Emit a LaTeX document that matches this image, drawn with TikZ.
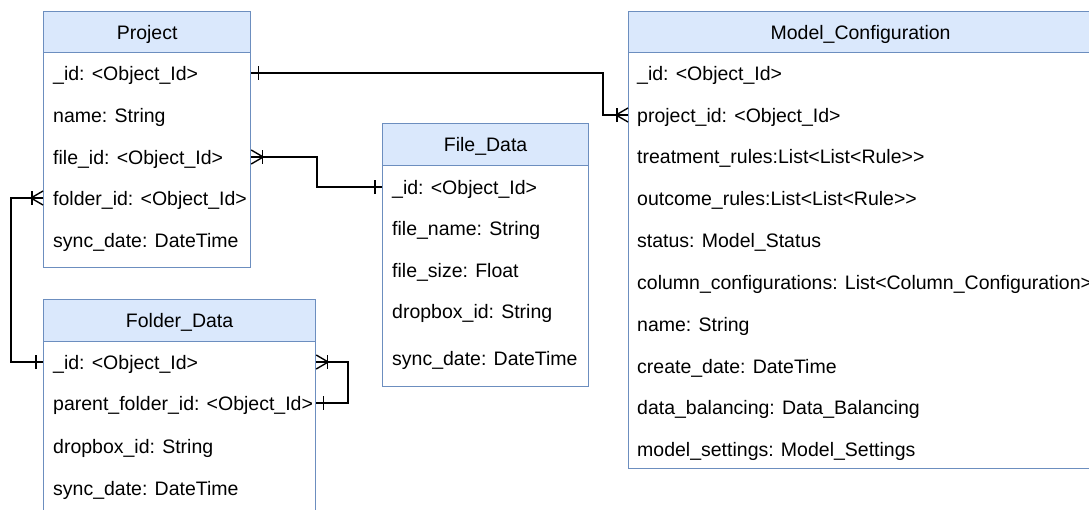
\documentclass[tikz,border=0pt]{standalone}
\usepackage{fontspec}
\setmainfont{Liberation Sans}
\definecolor{hdrfill}{HTML}{DAE8FC}
\definecolor{hdrline}{HTML}{6C8EBF}
\begin{document}
\begin{tikzpicture}[x=1pt,y=-1pt,
  txt/.style={font=\fontsize{19.5}{23}\selectfont, text height=14pt, text depth=0pt},
  boxline/.style={draw=hdrline, line width=1.2pt},
  hdr/.style={boxline, txt, fill=hdrfill, anchor=north west, inner sep=0pt},
  body/.style={boxline, fill=white, anchor=north west, inner sep=0pt},
  field/.style={txt, anchor=west, inner xsep=10pt, inner ysep=0pt},
  link/.style={draw=black, line width=1.4pt},
  pics/erone/.style={code={\draw[link] (7,-7) -- (7,7);}},
  pics/ermany/.style={code={
    \draw[link] (0,-7) -- (12,0) -- (0,7);
    \draw[link] (0,0) -- (12,0);
    \draw[link] (11,-7) -- (11,7);}},
]
\useasboundingbox (0,0) rectangle (1089,509);
\clip (0,0) rectangle (1089,509);
\fill[white] (0,0) rectangle (1089,509);

% Project
\node[body, minimum width=207pt, minimum height=256pt] (p-b) at (43,11) {};
\node[hdr, minimum width=207pt, minimum height=41pt] (p-h) at (43,11) {Project};
\node[field] (p-id)     at (43,73)  {\_id: <Object\_Id>};
\node[field] (p-name)   at (43,115) {name: String};
\node[field] (p-file)   at (43,157) {file\_id: <Object\_Id>};
\node[field] (p-folder) at (43,198) {folder\_id: <Object\_Id>};
\node[field] (p-sync)   at (43,240) {sync\_date: DateTime};

% Model_Configuration
\node[body, minimum width=464pt, minimum height=457pt] (mc-b) at (628,11) {};
\node[hdr, minimum width=464pt, minimum height=41pt] (mc-h) at (628,11) {Model\_Configuration};
\node[field, inner xsep=9pt] (mc-id)    at (628,73)  {\_id: <Object\_Id>};
\node[field, inner xsep=9pt] (mc-pid)   at (628,115) {project\_id: <Object\_Id>};
\node[field, inner xsep=9pt] (mc-treat) at (628,156) {treatment\_rules:List<List<Rule>{}>};
\node[field, inner xsep=9pt] (mc-out)   at (628,198) {outcome\_rules:List<List<Rule>{}>};
\node[field, inner xsep=9pt] (mc-stat)  at (628,240) {status: Model\_Status};
\node[field, inner xsep=9pt] (mc-col)   at (628,282) {column\_configurations: List<Column\_Configuration>};
\node[field, inner xsep=9pt] (mc-name)  at (628,324) {name: String};
\node[field, inner xsep=9pt] (mc-cd)    at (628,366) {create\_date: DateTime};
\node[field, inner xsep=9pt] (mc-bal)   at (628,407) {data\_balancing: Data\_Balancing};
\node[field, inner xsep=9pt] (mc-set)   at (628,449) {model\_settings: Model\_Settings};

% File_Data
\node[body, minimum width=206pt, minimum height=263pt] (f-b) at (382,123) {};
\node[hdr, minimum width=206pt, minimum height=42pt] (f-h) at (382,123) {File\_Data};
\node[field] (f-id)   at (382,187) {\_id: <Object\_Id>};
\node[field] (f-name) at (382,228) {file\_name: String};
\node[field] (f-size) at (382,270) {file\_size: Float};
\node[field] (f-drop) at (382,311) {dropbox\_id: String};
\node[field] (f-sync) at (382,358) {sync\_date: DateTime};

% Folder_Data
\node[body, minimum width=272pt, minimum height=216pt] (fo-b) at (43,299) {};
\node[hdr, minimum width=272pt, minimum height=42pt] (fo-h) at (43,299) {Folder\_Data};
\node[field] (fo-id)   at (43,362) {\_id: <Object\_Id>};
\node[field] (fo-pid)  at (43,403) {parent\_folder\_id: <Object\_Id>};
\node[field] (fo-drop) at (43,446) {dropbox\_id: String};
\node[field] (fo-sync) at (43,488) {sync\_date: DateTime};

% bend columns of the connectors
\coordinate (j1) at (603,0);
\coordinate (j2) at (317,0);
\coordinate (j3) at (11,0);
\coordinate (j4) at (348,0);

% Project 1 -- n Model_Configuration
\draw[link] (p-id -| p-b.east) -| (j1 |- mc-pid) -- (mc-pid -| mc-b.west);
\pic at (p-id -| p-b.east) {erone};
\pic[rotate=180] at (mc-pid -| mc-b.west) {ermany};

% Project n -- 1 File_Data
\draw[link] (p-file -| p-b.east) -| (j2 |- f-id) -- (f-id -| f-b.west);
\pic at (p-file -| p-b.east) {ermany};
\pic[rotate=180] at (f-id -| f-b.west) {erone};

% Project n -- 1 Folder_Data
\draw[link] (p-folder -| p-b.west) -| (j3 |- fo-id) -- (fo-id -| fo-b.west);
\pic[rotate=180] at (p-folder -| p-b.west) {ermany};
\pic[rotate=180] at (fo-id -| fo-b.west) {erone};

% Folder_Data parent relation
\draw[link] (fo-id -| fo-b.east) -| (j4 |- fo-pid) -- (fo-pid -| fo-b.east);
\pic at (fo-id -| fo-b.east) {ermany};
\pic at (fo-pid -| fo-b.east) {erone};
\end{tikzpicture}
\end{document}
